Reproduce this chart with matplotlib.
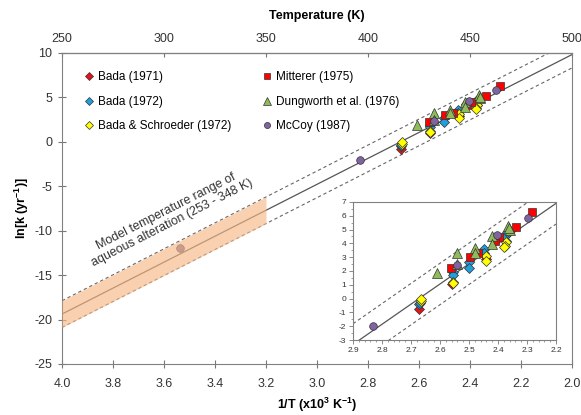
import matplotlib.pyplot as plt
import numpy as np

plt.rcParams['font.family'] = ['Liberation Sans', 'DejaVu Sans']
plt.rcParams['mathtext.default'] = 'regular'
plt.rcParams['axes.unicode_minus'] = False

# data (x = 1000/T, y = ln k)
bada71_x = [2.672, 2.557, 2.443, 2.414, 2.372]
bada71_y = [-0.78, 1.05, 2.90, 4.30, 4.60]
bada72_x = [2.671, 2.670, 2.556, 2.556, 2.500, 2.500, 2.447, 2.447, 2.372, 2.376, 2.370]
bada72_y = [-0.42, -0.30, 1.95, 1.71, 2.67, 2.24, 3.59, 3.30, 4.20, 4.55, 4.80]
bs72_x = [2.667, 2.667, 2.556, 2.556, 2.442, 2.442, 2.372, 2.376, 2.378]
bs72_y = [-0.20, 0.00, 1.18, 1.10, 3.09, 2.72, 4.10, 3.83, 3.75]
mitt_x = [2.282, 2.339, 2.397, 2.410, 2.468, 2.497, 2.562]
mitt_y = [6.25, 5.20, 4.47, 4.20, 3.28, 2.98, 2.20]
dung_x = [2.609, 2.542, 2.542, 2.479, 2.479, 2.420, 2.420, 2.364, 2.360, 2.362]
dung_y = [1.88, 3.28, 2.50, 3.64, 3.28, 4.54, 3.96, 5.28, 4.97, 5.10]
mccoy_x = [3.537, 2.830, 2.540, 2.402, 2.298]
mccoy_y = [-11.9, -2.00, 2.40, 4.60, 5.86]

# Arrhenius fit and prediction band
fit_x0, fit_y0, fit_slope = 2.2, 6.9, -14.6
band = 1.5
band_xmin, band_xmax = 3.2, 4.0

series = [
    ('Bada (1971)', bada71_x, bada71_y, 'D', '#e3141b', 5),
    ('Bada (1972)', bada72_x, bada72_y, 'D', '#1f9fdc', 5),
    ('Bada & Schroeder (1972)', bs72_x, bs72_y, 'D', '#ffff00', 5),
    ('Mitterer (1975)', mitt_x, mitt_y, 's', '#ff0000', 5.5),
    ('Dungworth et al. (1976)', dung_x, dung_y, '^', '#8fbc5a', 6.5),
    ('McCoy (1987)', mccoy_x, mccoy_y, 'o', '#8064a2', 5.5),
]


def fit(x):
    return fit_y0 + fit_slope * (x - fit_x0)


def draw(ax, xr, ms_scale=1.0):
    xx = np.linspace(xr[0], xr[1], 200)
    ax.plot(xx, fit(xx), color='#555555', lw=0.9, zorder=2)
    ax.plot(xx, fit(xx) + band, color='#666666', lw=0.8, ls=(0, (3, 2.5)), zorder=2)
    ax.plot(xx, fit(xx) - band, color='#666666', lw=0.8, ls=(0, (3, 2.5)), zorder=2)
    for lab, x, y, m, c, ms in series:
        ax.plot(x, y, ls='none', marker=m, color=c, mec='#333333', mew=0.5,
                ms=ms * ms_scale, label=lab, zorder=3)


fig = plt.figure(figsize=(5.81, 4.15), dpi=100)
ax = fig.add_axes([0.1067, 0.1229, 0.8778, 0.7494])
draw(ax, (4.0, 2.0))

bx = np.linspace(band_xmin, band_xmax, 50)
ax.fill_between(bx, fit(bx) - band, fit(bx) + band, color='#f6b987', alpha=0.65,
                lw=0, zorder=4)

ax.set_xlim(4.0, 2.0)
ax.set_ylim(-25, 10)
ax.set_xticks(np.arange(4.0, 1.99, -0.2))
ax.set_yticks(np.arange(-25, 11, 5))
ax.tick_params(direction='inout', length=6, width=0.8, color='#777777',
               labelsize=9, labelcolor='#333333', pad=4)
ax.tick_params(axis='x', pad=7)
for s in ax.spines.values():
    s.set_color('#808080')
ax.set_xlabel('1/T (x10$^3$ K$^{-1}$)', fontsize=9, fontweight='bold', labelpad=4)
ax.set_ylabel('ln[k (yr$^{-1}$)]', fontsize=9, fontweight='bold', labelpad=2)

top = ax.secondary_xaxis('top', functions=(lambda x: 750 - 125 * x,
                                           lambda t: (750 - t) / 125))
top.set_xticks(np.arange(250, 501, 50))
top.tick_params(direction='in', length=3, width=0.8, color='#777777',
                labelsize=9, labelcolor='#333333', pad=6)
top.set_xlabel('Temperature (K)', fontsize=9, fontweight='bold', labelpad=10)

ax.text(3.58, -8.5, 'Model temperature range of\naqueous alteration (253 - 348 K)',
        rotation=27, ha='center', va='center', fontsize=9, color='#333333',
        linespacing=1.0, rotation_mode='anchor')

ax.legend(loc='upper left', bbox_to_anchor=(0.02, 0.975), ncol=2, frameon=False,
          fontsize=8.5, labelspacing=1.05, columnspacing=2.5, handletextpad=0.3,
          handlelength=1.0, markerscale=0.8)

ins = fig.add_axes([0.6076, 0.1807, 0.3494, 0.3326])
draw(ins, (2.9, 2.2), ms_scale=1.0)
ins.set_xlim(2.9, 2.2)
ins.set_ylim(-3, 7)
ins.set_xticks(np.arange(2.9, 2.19, -0.1))
ins.set_xticks(np.arange(2.9, 2.19, -0.02), minor=True)
ins.set_yticks(np.arange(-3, 7.1, 1))
ins.set_yticks(np.arange(-3, 7.1, 0.5), minor=True)
ins.tick_params(direction='out', length=3, width=0.6, color='#777777',
                labelsize=6, labelcolor='#333333', pad=2)
ins.tick_params(which='minor', direction='out', length=1.5, width=0.5, color='#777777')
for s in ins.spines.values():
    s.set_color('#808080')

fig.savefig('out.png', dpi=100)
